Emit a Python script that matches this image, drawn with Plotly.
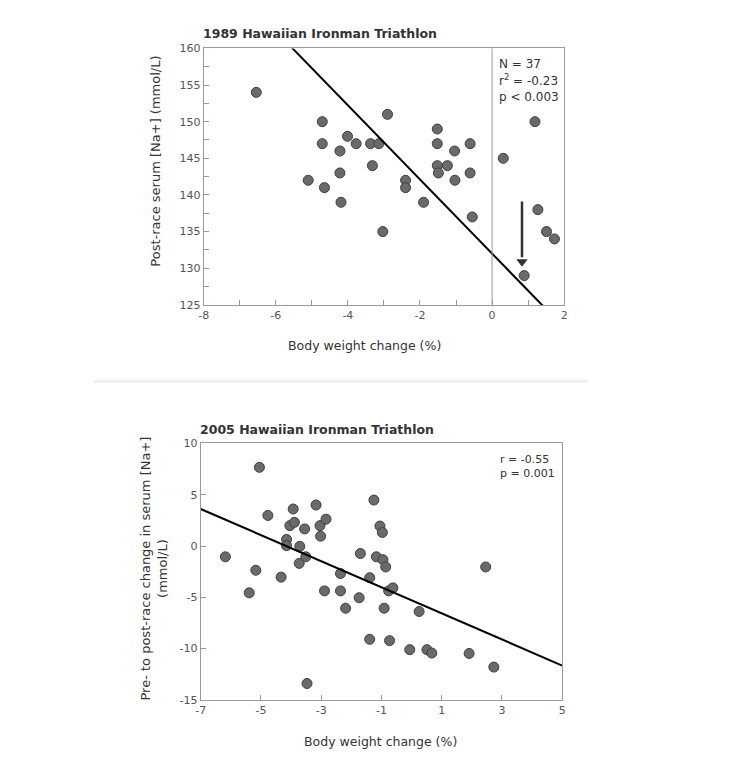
import plotly.graph_objects as go

# ---- Data: 1989 Hawaiian Ironman ----
bw_1989 = [-6.54, -4.71, -4.71, -5.10, -4.65, -4.22, -4.22, -4.19, -4.01, -3.77,
           -3.37, -3.14, -3.32, -2.90, -3.03, -2.40, -2.40, -1.90, -1.52, -1.52,
           -1.52, -1.49, -1.24, -1.04, -1.03, -0.61, -0.61, -0.55, 0.31, 1.19,
           1.27, 1.51, 1.73, 0.89]
na_1989 = [154, 150, 147, 142, 141, 146, 143, 139, 148, 147,
           147, 147, 144, 151, 135, 142, 141, 139, 149, 147,
           144, 143, 144, 146, 142, 147, 143, 137, 145, 150,
           138, 135, 134, 129]
fit_1989 = {"slope": -5.06, "intercept": 132.0}
stats_1989 = ["N = 37", "r<sup>2</sup> = -0.23", "p < 0.003"]
arrow_1989 = {"x": 0.83, "from": 139.1, "to": 130.9}
xt_1989 = [-8, -6, -4, -2, 0, 2]
yt_1989 = [125, 130, 135, 140, 145, 150, 155, 160]

# ---- Data: 2005 Hawaiian Ironman ----
bw_2005 = [-6.18, -5.05, -5.39, -5.17, -4.77, -4.33, -4.15, -4.15, -4.04, -3.93,
           -3.89, -3.71, -3.73, -3.55, -3.51, -3.47, -3.17, -3.04, -3.02, -2.84,
           -2.89, -2.36, -2.36, -2.19, -1.70, -1.74, -1.39, -1.39, -1.25, -1.17,
           -1.05, -0.97, -0.95, -0.86, -0.91, -0.76, -0.62, -0.73, -0.06, 0.25,
           0.51, 0.67, 1.91, 2.46, 2.73]
dna_2005 = [-1.05, 7.67, -4.56, -2.36, 2.98, -3.03, 0.64, 0.04, 1.99, 3.61,
            2.31, -0.03, -1.69, 1.67, -1.05, -13.4, 4.0, 1.99, 0.96, 2.62,
            -4.37, -2.68, -4.37, -6.06, -0.73, -5.04, -3.09, -9.09, 4.48, -1.05,
            1.95, 1.32, -1.33, -2.04, -6.06, -4.37, -4.08, -9.22, -10.1, -6.38,
            -10.1, -10.43, -10.47, -2.04, -11.8]
fit_2005 = {"slope": -1.272, "intercept": -5.29}
stats_2005 = ["r = -0.55", "p = 0.001"]
xt_2005 = [-7, -5, -3, -1, 1, 3, 5]
yt_2005 = [-15, -10, -5, 0, 5, 10]

# page has an 8px body margin; figure sized to fit the 754x768 window
OFF = 8
W, H = 754 - 2 * OFF, 768 - 2 * OFF
FONT = "DejaVu Sans"
TXT = "#333333"
AX = "#9a9a9a"


def px(x):
    return (x - OFF) / W


def py(y):
    return 1 - (y - OFF) / H


fig = go.Figure()

marker = dict(size=10, color="#6a6a6a", line=dict(color="#3f3f3f", width=1))

fig.add_trace(go.Scatter(x=bw_1989, y=na_1989, mode="markers", marker=marker,
                         xaxis="x", yaxis="y", showlegend=False))
xr1 = [-8, 2]
fig.add_trace(go.Scatter(x=xr1, y=[fit_1989["intercept"] + fit_1989["slope"] * v for v in xr1],
                         mode="lines", line=dict(color="black", width=2),
                         xaxis="x", yaxis="y", showlegend=False))
# arrow (shaft + head)
fig.add_trace(go.Scatter(x=[arrow_1989["x"], arrow_1989["x"]],
                         y=[arrow_1989["from"], arrow_1989["to"] + 0.6],
                         mode="lines", line=dict(color="#333", width=2.5),
                         xaxis="x", yaxis="y", showlegend=False, hoverinfo="skip"))
fig.add_trace(go.Scatter(x=[arrow_1989["x"]], y=[arrow_1989["to"]], mode="markers",
                         marker=dict(symbol="triangle-down", size=10, color="#333"),
                         xaxis="x", yaxis="y", showlegend=False, hoverinfo="skip"))

fig.add_trace(go.Scatter(x=bw_2005, y=dna_2005, mode="markers", marker=marker,
                         xaxis="x2", yaxis="y2", showlegend=False))
xr2 = [-7, 5]
fig.add_trace(go.Scatter(x=xr2, y=[fit_2005["intercept"] + fit_2005["slope"] * v for v in xr2],
                         mode="lines", line=dict(color="black", width=2),
                         xaxis="x2", yaxis="y2", showlegend=False))

axis_common = dict(showline=True, linecolor=AX, linewidth=1, mirror=True,
                   ticks="inside", ticklen=5, tickcolor=AX, showgrid=False,
                   zeroline=False, tickfont=dict(family=FONT, size=11, color="#555"))


def labels(vals):
    return [str(v) for v in vals]


fig.update_layout(
    width=W, height=H, autosize=False,
    margin=dict(l=0, r=0, t=0, b=0),
    paper_bgcolor="white", plot_bgcolor="white",
    xaxis=dict(domain=[px(201), px(566)], range=[-8, 2],
               tickmode="array", tickvals=xt_1989, ticktext=labels(xt_1989),
               minor=dict(dtick=1, tick0=-8, ticks="inside", ticklen=5, tickcolor=AX),
               anchor="y", **axis_common),
    yaxis=dict(domain=[py(304), py(43)], range=[125, 160],
               tickmode="array", tickvals=yt_1989, ticktext=labels(yt_1989),
               minor=dict(dtick=2.5, tick0=125, ticks="inside", ticklen=5, tickcolor=AX),
               anchor="x", **axis_common),
    xaxis2=dict(domain=[px(198), px(564)], range=[-7, 5],
                tickmode="array", tickvals=xt_2005, ticktext=labels(xt_2005),
                anchor="y2", **axis_common),
    yaxis2=dict(domain=[py(706), py(445)], range=[-15, 10],
                tickmode="array", tickvals=yt_2005, ticktext=labels(yt_2005),
                anchor="x2", **axis_common),
)

# vertical zero line in top chart
fig.add_shape(type="line", xref="x", yref="y domain", x0=0, x1=0, y0=0, y1=1,
              line=dict(color=AX, width=1))

# separator band
fig.add_shape(type="line", xref="paper", yref="paper", x0=px(90), x1=px(590),
              y0=py(382), y1=py(382), line=dict(color="#f0f0f0", width=3))

ann = []
# titles
ann.append(dict(text="<b>1989 Hawaiian Ironman Triathlon</b>", x=px(198), y=py(28),
                xanchor="left", yanchor="middle", font=dict(size=12.5)))
ann.append(dict(text="<b>2005 Hawaiian Ironman Triathlon</b>", x=px(195), y=py(431),
                xanchor="left", yanchor="middle", font=dict(size=12.5)))
# axis titles
ann.append(dict(text="Body weight change (%)", x=px(364), y=py(345),
                xanchor="center", yanchor="middle", font=dict(size=12.5)))
ann.append(dict(text="Body weight change (%)", x=px(380), y=py(748),
                xanchor="center", yanchor="middle", font=dict(size=12.5)))
ann.append(dict(text="Post-race serum [Na+] (mmol/L)", x=px(152), y=py(158),
                xanchor="center", yanchor="middle", textangle=-90, font=dict(size=13)))
ann.append(dict(text="Pre- to post-race change in serum [Na+]<br>(mmol/L)",
                x=px(151), y=py(572), xanchor="center", yanchor="middle",
                textangle=-90, font=dict(size=13)))
# stats
for i, s in enumerate(stats_1989):
    ann.append(dict(text=s, x=px(498), y=py(59 + 16.5 * i), xanchor="left",
                    yanchor="middle", font=dict(size=12)))
for i, s in enumerate(stats_2005):
    ann.append(dict(text=s, x=px(499), y=py(461 + 14.5 * i), xanchor="left",
                    yanchor="middle", font=dict(size=11)))

for a in ann:
    a["xref"] = "paper"
    a["yref"] = "paper"
    a["showarrow"] = False
    f = a.get("font", {})
    f.setdefault("family", FONT)
    f.setdefault("color", TXT)
    a["font"] = f
    fig.add_annotation(**a)

fig.write_html("out.html")
